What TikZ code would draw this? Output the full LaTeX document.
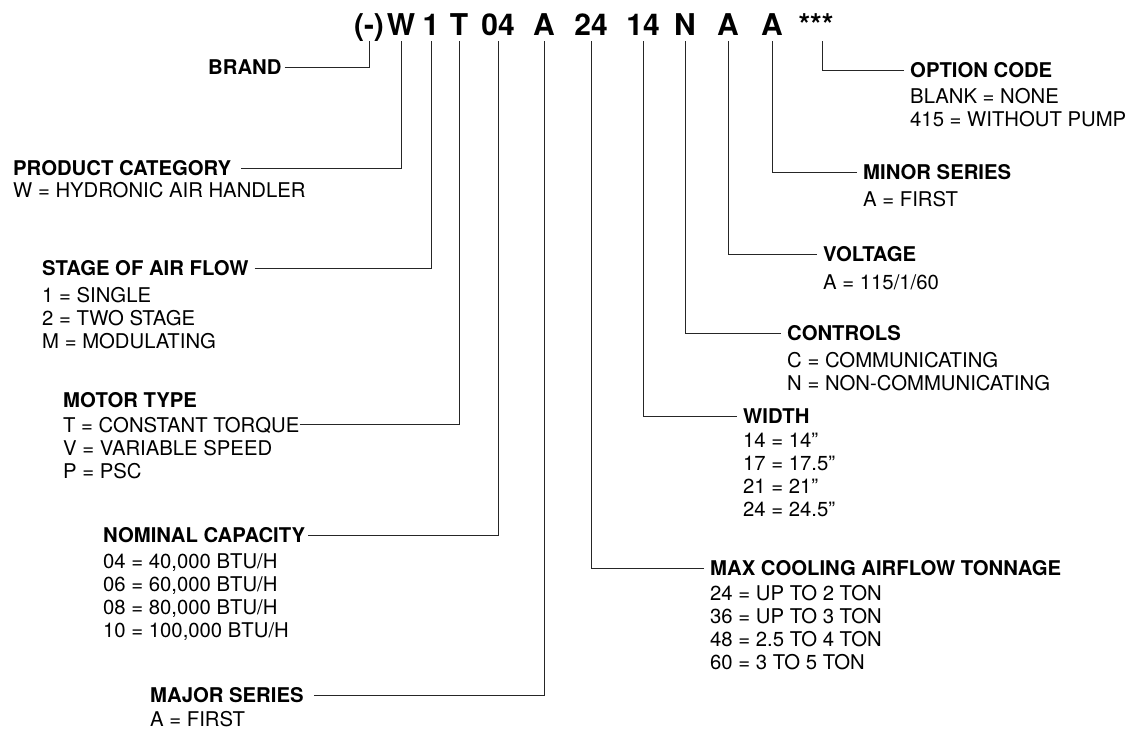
\documentclass[tikz,border=0pt]{standalone}
\usepackage{fontspec}
\setmainfont{TeX Gyre Heros}
\usetikzlibrary{positioning}
\tikzset{
  code/.style={font=\bfseries\fontsize{30}{30}\selectfont, anchor=base,
    inner xsep=0pt, inner ysep=6pt, text depth=0pt},
  head/.style={font=\bfseries\fontsize{20.3}{23.3}\selectfont, anchor=west,
    inner sep=0pt, text height=14.6pt, text depth=0pt},
  % base of a multi-line node = baseline of its last line
  vals/.style={font=\fontsize{20.3}{23.3}\selectfont, align=left,
    inner sep=0pt, anchor=base west},
  link/.style={draw=black!85, line width=0.9pt, shorten <=6pt}
}

\begin{document}
\begin{tikzpicture}[x=1pt, y=-1pt]
  \useasboundingbox (0,0) rectangle (1132,732);
  % model number
  \node[code] (cbrand) at (369,35) {(-)};
  \node[code] (ccat) at (401,35) {W};
  \node[code] (cstage) at (431,35) {1};
  \node[code] (cmotor) at (459,35) {T};
  \node[code] (ccap) at (498,35) {04};
  \node[code] (cmajor) at (544,35) {A};
  \node[code] (cair) at (591,35) {24};
  \node[code] (cwidth) at (643,35) {14};
  \node[code] (cctrl) at (685,35) {N};
  \node[code] (cvolt) at (728,35) {A};
  \node[code] (cminor) at (772,35) {A};
  \node[code] (copt) at (816,35) {***};

  % left side
  \node[head] (brand) at (208,67) {BRAND};
  \node[head] (cat) at (13,168) {PRODUCT CATEGORY};
  \node[vals] (catv) at (13,197) {W = HYDRONIC AIR HANDLER};
  \node[head] (stage) at (42,268) {STAGE OF AIR FLOW};
  \node[vals] (stagev) at (42,348.6) {1 = SINGLE\\2 = TWO STAGE\\M = MODULATING};
  \node[head] (motor) at (63,400) {MOTOR TYPE};
  \node[vals, text height=14.6pt, text depth=0pt] (motor1) at (63,432) {T = CONSTANT TORQUE};
  \node[vals] (motorv) at (63,478.3) {V = VARIABLE SPEED\\P = PSC};
  \node[head] (cap) at (103,535) {NOMINAL CAPACITY};
  \node[vals] (capv) at (103,637.9) {04 = 40,000 BTU/H\\06 = 60,000 BTU/H\\08 = 80,000 BTU/H\\10 = 100,000 BTU/H};
  \node[head] (major) at (150,695) {MAJOR SERIES};
  \node[vals] (majorv) at (150,726) {A = FIRST};

  % right side
  \node[head] (opt) at (910,70) {OPTION CODE};
  \node[vals] (optv) at (910,126.3) {BLANK = NONE\\415 = WITHOUT PUMP};
  \node[head] (minor) at (863,172) {MINOR SERIES};
  \node[vals] (minorv) at (863,206) {A = FIRST};
  \node[head] (volt) at (823,254) {VOLTAGE};
  \node[vals] (voltv) at (823,289) {A = 115/1/60};
  \node[head] (ctrl) at (787,333) {CONTROLS};
  \node[vals] (ctrlv) at (787,390.3) {C = COMMUNICATING\\N = NON-COMMUNICATING};
  \node[head] (width) at (743,416) {WIDTH};
  \node[vals] (widthv) at (743,516.9) {14 = 14”\\17 = 17.5”\\21 = 21”\\24 = 24.5”};
  \node[head] (air) at (710,568) {MAX COOLING AIRFLOW TONNAGE};
  \node[vals] (airv) at (710,669.9) {24 = UP TO 2 TON\\36 = UP TO 3 TON\\48 = 2.5 TO 4 TON\\60 = 3 TO 5 TON};

  % leaders
  \draw[link, shorten <=3pt] (brand.east) -| (cbrand.south);
  \draw[link, shorten <=10pt] (cat.east) -| (ccat.south);
  \draw[link] (stage.east) -| (cstage.south);
  \draw[link, shorten <=0pt] (motor1.east) -| (cmotor.south);
  \draw[link, shorten <=3pt] (cap.east) -| (ccap.south);
  \draw[link, shorten <=10pt] (major.east) -| (cmajor.south);
  \draw[link] (air.west) -| (cair.south);
  \draw[link] (width.west) -| (cwidth.south);
  \draw[link] (ctrl.west) -| (cctrl.south);
  \draw[link] (volt.west) -| (cvolt.south);
  \draw[link] (minor.west) -| (cminor.south);
  \draw[link] (opt.west) -| ([xshift=6pt]copt.south);
\end{tikzpicture}
\end{document}
